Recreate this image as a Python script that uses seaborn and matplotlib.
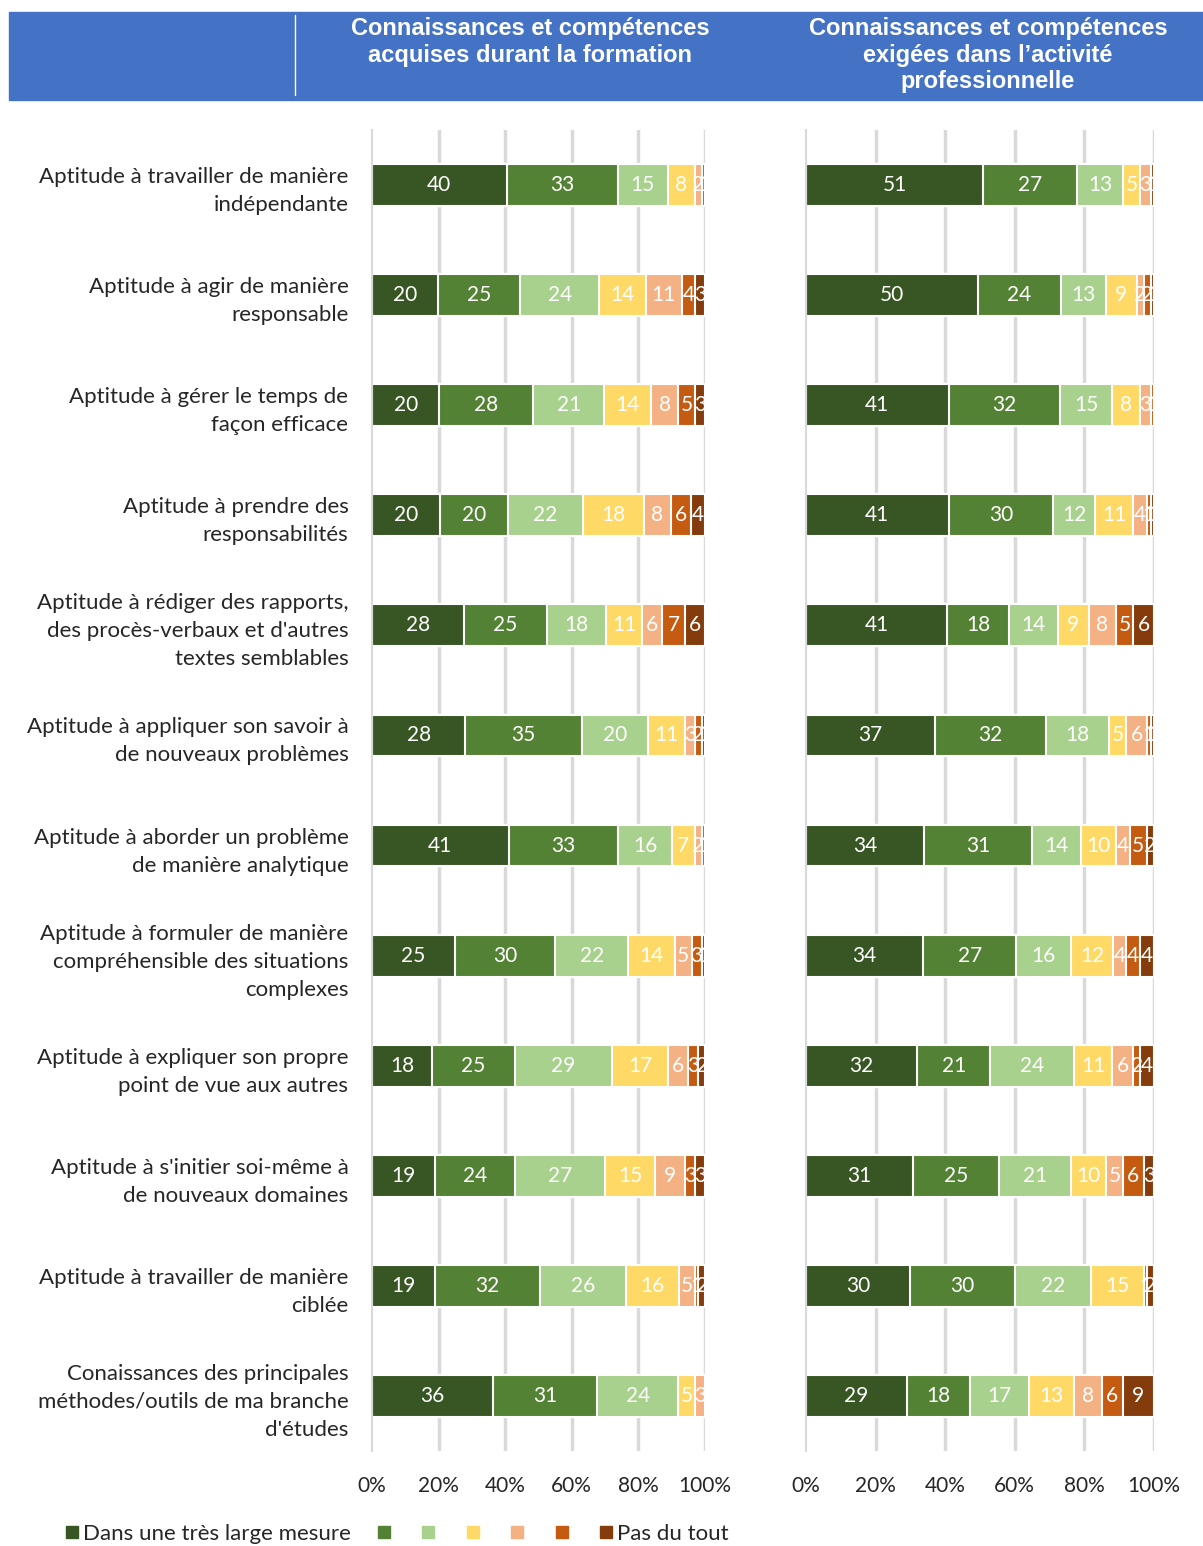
import matplotlib
matplotlib.use("Agg")
import matplotlib.pyplot as plt
import numpy as np
import pandas as pd
import seaborn as sb
from matplotlib.patches import Rectangle
from matplotlib.lines import Line2D

sb.set_style("white")
plt.rcParams["font.family"] = ["Lato", "DejaVu Sans"]

categories = [
    "Aptitude à travailler de manière\nindépendante",
    "Aptitude à agir de manière\nresponsable",
    "Aptitude à gérer le temps de\nfaçon efficace",
    "Aptitude à prendre des\nresponsabilités",
    "Aptitude à rédiger des rapports,\ndes procès-verbaux et d'autres\ntextes semblables",
    "Aptitude à appliquer son savoir à\nde nouveaux problèmes",
    "Aptitude à aborder un problème\nde manière analytique",
    "Aptitude à formuler de manière\ncompréhensible des situations\ncomplexes",
    "Aptitude à expliquer son propre\npoint de vue aux autres",
    "Aptitude à s'initier soi-même à\nde nouveaux domaines",
    "Aptitude à travailler de manière\nciblée",
    "Conaissances des principales\nméthodes/outils de ma branche\nd'études",
]
levels = ["Dans une très large mesure", "", "", "", "", "", "Pas du tout"]
colors = ["#375623", "#548235", "#A9D18E", "#FFD966", "#F4B183", "#C55A11", "#843C0C"]

# formation (left panel), one list per answer level
form_1 = [40, 20, 20, 20, 28, 28, 41, 25, 18, 19, 19, 36]
form_2 = [33, 25, 28, 20, 25, 35, 33, 30, 25, 24, 32, 31]
form_3 = [15, 24, 21, 22, 18, 20, 16, 22, 29, 27, 26, 24]
form_4 = [8, 14, 14, 18, 11, 11, 7, 14, 17, 15, 16, 5]
form_5 = [2, 11, 8, 8, 6, 3, 2, 5, 6, 9, 5, 3]
form_6 = [1, 4, 5, 6, 7, 2, 1, 3, 3, 3, 1, 0]
form_7 = [0, 3, 3, 4, 6, 1, 0, 1, 2, 3, 2, 0]

# activité professionnelle (right panel)
prof_1 = [51, 50, 41, 41, 41, 37, 34, 34, 32, 31, 30, 29]
prof_2 = [27, 24, 32, 30, 18, 32, 31, 27, 21, 25, 30, 18]
prof_3 = [13, 13, 15, 12, 14, 18, 14, 16, 24, 21, 22, 17]
prof_4 = [5, 9, 8, 11, 9, 5, 10, 12, 11, 10, 15, 13]
prof_5 = [3, 2, 3, 4, 8, 6, 4, 4, 6, 5, 0, 8]
prof_6 = [0, 2, 1, 1, 5, 1, 5, 4, 2, 6, 1, 6]
prof_7 = [1, 1, 0, 1, 6, 1, 2, 4, 4, 3, 2, 9]

W, H = 1203, 1546
fig = plt.figure(figsize=(W / 100, H / 100), dpi=100)

# header band
fig.patches.append(Rectangle((9 / W, 1 - 100 / H), 1 - 9 / W, 88 / H,
                             transform=fig.transFigure, color="#4472C4", zorder=0))
fig.lines.append(Line2D([295 / W, 295 / W], [1 - 95 / H, 1 - 15 / H],
                        transform=fig.transFigure, color="white", lw=1))
fig.text(530 / W, 1 - 17 / H, "Connaissances et compétences\nacquises durant la formation",
         ha="center", va="top", color="white", fontsize=17, fontweight="bold",
         family="Liberation Sans", linespacing=1.2)
fig.text(988 / W, 1 - 17 / H, "Connaissances et compétences\nexigées dans l’activité\nprofessionnelle",
         ha="center", va="top", color="white", fontsize=17, fontweight="bold",
         family="Liberation Sans", linespacing=1.2)


def draw_panel(ax, vals, show_labels):
    data = pd.DataFrame(np.array(vals).T, columns=range(7))
    data["cat"] = categories
    pct = data[list(range(7))].div(data[list(range(7))].sum(axis=1), axis=0) * 100
    cum = pct.cumsum(axis=1)
    for ax_x in [20, 40, 60, 80, 100]:
        ax.axvline(ax_x, color="#D9D9D9", lw=2.5, zorder=0)
    # stacked bars: draw cumulative totals from the back to the front
    for k in range(6, -1, -1):
        sb.barplot(x=cum[k], y=data["cat"], orient="h", color=colors[k], saturation=1,
                   width=0.38, edgecolor="white", linewidth=1.5, ax=ax, zorder=2)
    for i in range(len(categories)):
        for k in range(7):
            v = data.loc[i, k]
            if v <= 0:
                continue
            cx = cum.loc[i, k] - pct.loc[i, k] / 2
            ax.text(cx, i, str(v), ha="center", va="center", color="white",
                    fontsize=15, zorder=5, clip_on=False)
    ax.set_xlim(0, 100)
    ax.set_ylim(len(categories) - 0.5, -0.5)
    ax.set_xticks([0, 20, 40, 60, 80, 100])
    ax.set_xticklabels(["0%", "20%", "40%", "60%", "80%", "100%"], fontsize=15)
    ax.tick_params(axis="x", length=0, pad=18)
    ax.set_xlabel("")
    ax.set_ylabel("")
    ax.set_yticks(np.arange(len(categories)))
    ax.set_yticks(np.arange(len(categories) + 1) - 0.5, minor=True)
    ax.tick_params(axis="y", which="minor", length=6, color="#D9D9D9", width=1.5)
    if show_labels:
        ax.set_yticklabels(categories, fontsize=16, linespacing=1.5)
        ax.tick_params(axis="y", which="major", length=0, pad=17)
    else:
        ax.set_yticklabels([])
        ax.tick_params(axis="y", which="major", length=0)
    for s in ["top", "right", "bottom"]:
        ax.spines[s].set_visible(False)
    ax.spines["left"].set_color("#D9D9D9")
    ax.spines["left"].set_linewidth(1.5)
    ax.grid(False)


ax_bottom = 1 - 1451 / H
ax_height = (1451 - 130) / H
ax1 = fig.add_axes([372 / W, ax_bottom, (705 - 372) / W, ax_height])
ax2 = fig.add_axes([806 / W, ax_bottom, (1154 - 806) / W, ax_height])

draw_panel(ax1, [form_1, form_2, form_3, form_4, form_5, form_6, form_7], True)
draw_panel(ax2, [prof_1, prof_2, prof_3, prof_4, prof_5, prof_6, prof_7], False)

handles = [Line2D([0], [0], marker="s", color="none", markerfacecolor=c,
                  markeredgecolor=c, markersize=9) for c in colors]
fig.legend(handles, levels, loc="center left", bbox_to_anchor=(56 / W, 1 - 1534 / H),
           ncol=7, frameon=False, fontsize=16, handlelength=0.6, handletextpad=0.2,
           columnspacing=1.2, borderaxespad=0)

plt.savefig("out.png", dpi=100)
